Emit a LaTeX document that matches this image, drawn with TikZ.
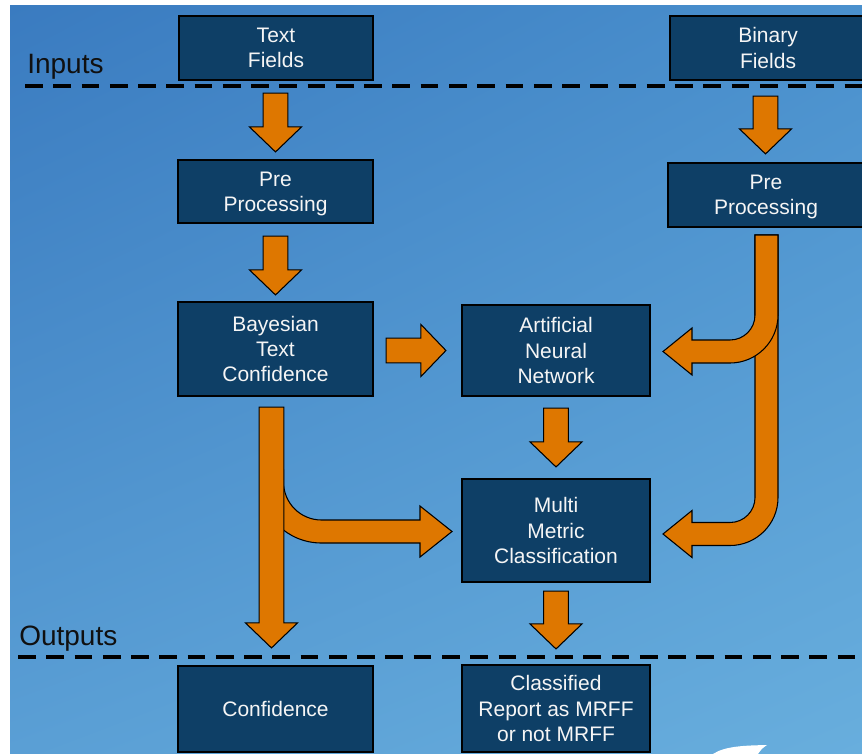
\documentclass[tikz,border=0pt]{standalone}
\usepackage{fontspec}
\setmainfont{Liberation Sans}
\usetikzlibrary{calc,shadings}
\definecolor{boxfill}{HTML}{0E3F66}
\definecolor{arrorange}{HTML}{DE7700}
\definecolor{bgUL}{HTML}{3A7BC0}
\definecolor{bgUR}{HTML}{4A90CD}
\definecolor{bgLL}{HTML}{5A9FD5}
\definecolor{bgLR}{HTML}{68AEDD}
\definecolor{lbltext}{HTML}{101010}
\def\ASW{12.4}\def\AHW{26}\def\AHL{25}
\newcommand\varrow[2]{\draw[barrow] ($(#1 -| #2)+(-\ASW,0)$) -- ($(#2)+(-\ASW,-\AHL)$) -- ($(#2)+(-\AHW,-\AHL)$) -- (#2) -- ($(#2)+(\AHW,-\AHL)$) -- ($(#2)+(\ASW,-\AHL)$) -- ($(#1 -| #2)+(\ASW,0)$) -- cycle;}
\newcommand\harrow[2]{\draw[barrow] ($(#1 |- #2)+(0,-\ASW)$) -- ($(#2)+(-\AHL,-\ASW)$) -- ($(#2)+(-\AHL,-\AHW)$) -- (#2) -- ($(#2)+(-\AHL,\AHW)$) -- ($(#2)+(-\AHL,\ASW)$) -- ($(#1 |- #2)+(0,\ASW)$) -- cycle;}
\tikzset{
  box/.style={draw=black, line width=1.6pt, fill=boxfill, text=white!96!black,
    inner sep=0pt, align=center, text depth=0pt, font=\fontsize{15.75pt}{19pt}\selectfont},
  barrow/.style={fill=arrorange, draw=black, line width=0.8pt, line join=miter},
  sepline/.style={draw=black, line width=3.2pt, dash pattern=on 13.3pt off 7.9pt},
  lbl/.style={text=lbltext, inner sep=0pt, anchor=base west, font=\fontsize{21pt}{25pt}\selectfont}
}
\begin{document}
\begin{tikzpicture}[x=0.75pt, y=-0.75pt]
\useasboundingbox (0,0) rectangle (862,753);
\fill[white] (0,0) rectangle (862,753);
\clip (0,0) rectangle (862,753);
\shade[upper left=bgUL, upper right=bgUR, lower left=bgLL, lower right=bgLR] (10,5) rectangle (862,753);

% separators and labels
\draw[sepline] (25,86) -- (862,86);
\draw[sepline] (18,657) -- (862,657);
\node[lbl] (inl) at (27,73) {Inputs};
\node[lbl] (outl) at (19,645) {Outputs};

% boxes
\node[box, minimum width={194*0.75pt}, minimum height={64*0.75pt}] (tf) at (276,48) {Text\\Fields};
\node[box, minimum width={196*0.75pt}, minimum height={64*0.75pt}] (bf) at (768,48) {Binary\\Fields};
\node[box, minimum width={195*0.75pt}, minimum height={63*0.75pt}] (ppl) at (275.5,191.5) {Pre\\Processing};
\node[box, minimum width={196*0.75pt}, minimum height={64*0.75pt}] (ppr) at (766,195) {Pre\\Processing};
\node[box, minimum width={195*0.75pt}, minimum height={94*0.75pt}] (btc) at (275.5,349) {Bayesian\\Text\\Confidence};
\node[box, minimum width={188*0.75pt}, minimum height={91*0.75pt}] (ann) at (556,350.5) {Artificial\\Neural\\Network};
\node[box, minimum width={188*0.75pt}, minimum height={103*0.75pt}] (mmc) at (556,530.5) {Multi\\Metric\\Classification};
\node[box, minimum width={195*0.75pt}, minimum height={86*0.75pt}] (conf) at (275.5,709) {Confidence};
\node[box, minimum width={188*0.75pt}, minimum height={87*0.75pt}] (cls) at (556,708.5) {Classified\\Report as MRFF\\or not MRFF};

% arrow end points
\coordinate (a1s) at ($(tf.south)+(0,12)$);
\coordinate (a1t) at ($(ppl.north)+(0,-7)$);
\coordinate (a2s) at ($(bf.south)+(0,15)$);
\coordinate (a2t) at ($(ppr.north)+(-0.5,-8)$);
\coordinate (a3s) at ($(ppl.south)+(0,12)$);
\coordinate (a3t) at ($(btc.north)+(0,-6)$);
\coordinate (a4s) at ($(btc.east)+(12,0)$);
\coordinate (a4t) at ($(ann.west)+(-15,0)$);
\coordinate (a5s) at ($(ann.south)+(0,11)$);
\coordinate (a5t) at ($(mmc.north)+(0,-11)$);
\coordinate (a6s) at ($(mmc.south)+(0,8)$);
\coordinate (a6t) at ($(cls.north)+(0,-15)$);
\coordinate (a7s) at ($(btc.south)+(-4,10)$);
\coordinate (a7t) at ($(conf.north)+(-4,-17)$);

% straight arrows
\varrow{a1s}{a1t}
\varrow{a2s}{a2t}
\varrow{a3s}{a3t}
\harrow{a4s}{a4t}
\varrow{a5s}{a5t}
\varrow{a6s}{a6t}

% left branch (to Multi Metric Classification), under the long left arrow
\draw[barrow] (260,470) -- (260,482) .. controls (260,516) and (287.5,543) .. (321.5,543)
  -- (420,543) -- (420,557) -- (452,531.5) -- (420,506) -- (420,520) -- (321.5,520)
  .. controls (300.5,520) and (283.5,503) .. (283.5,482) -- (283.5,470) -- cycle;
\varrow{a7s}{a7t}

% right long J (to Multi Metric Classification)
\draw[barrow] (755,235) -- (755,497.5) .. controls (755,511.3) and (743.8,522.5) .. (730,522.5)
  -- (692,522.5) -- (692,510.5) -- (663,534) -- (692,557.5) -- (692,545.5) -- (730,545.5)
  .. controls (756.5,545.5) and (778,524) .. (778,497.5) -- (778,235) -- cycle;
% right short J (to Artificial Neural Network)
\draw[barrow] (755,235) -- (755,315) .. controls (755,328.8) and (743.8,340) .. (730,340)
  -- (692,340) -- (692,328) -- (663,351.5) -- (692,375) -- (692,363) -- (730,363)
  .. controls (756.5,363) and (778,341.5) .. (778,315) -- (778,235) -- cycle;

% corner logo fragment
\fill[white] (713,754) .. controls (725,746) and (745,745.5) .. (767,745) .. controls (762,748) and (760,751) .. (758,754) -- cycle;
\end{tikzpicture}
\end{document}
